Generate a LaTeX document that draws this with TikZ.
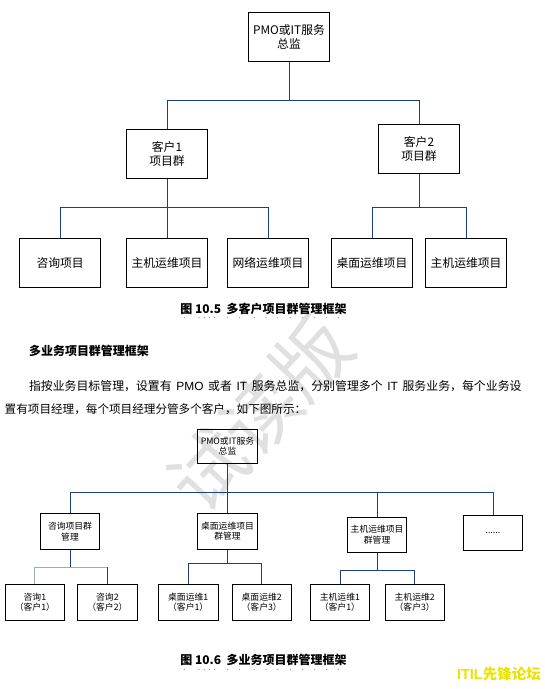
\documentclass[tikz,border=0pt]{standalone}
\usepackage{fontspec}
\usepackage{xcolor}
\setmainfont{Noto Sans CJK SC}
\newfontfamily\latinfont{Liberation Sans}
\usetikzlibrary{positioning}
\definecolor{linkblue}{RGB}{31, 62, 125}
\definecolor{linkgray}{RGB}{160, 170, 192}
\definecolor{markgray}{RGB}{224, 224, 224}
\definecolor{forumyellow}{RGB}{232, 228, 0}

\begin{document}
\begin{tikzpicture}[
    x=1pt, y=-1pt,
    every node/.style={inner sep=0pt},
    bigbox/.style={rectangle, draw, line width=0.9pt, minimum width=81pt, minimum height=49pt, align=center, font=\fontsize{11.8}{14.3}\selectfont},
    smallbox/.style={rectangle, draw, line width=0.9pt, minimum width=59.5pt, minimum height=36pt, align=center, font=\fontsize{8.8}{10.7}\selectfont},
    link/.style={linkblue, line width=0.75pt},
    softlink/.style={linkgray, line width=0.9pt},
    caption/.style={font=\bfseries\fontsize{12}{14}\selectfont},
    bodytext/.style={anchor=west, font=\fontsize{11.6}{14}\selectfont}
]
\useasboundingbox (0,0) rectangle (545,689);
\node[rotate=47, text=markgray, font=\fontsize{76}{76}\selectfont] (mark) at (260,414) {试读版};

% figure 10.5
\node[bigbox] (pmo) at (289,37.2) {PMO或IT服务\\总监};
\node[bigbox] (cust1) at (167,153.8) {客户1\\项目群};
\node[bigbox] (cust2) at (419,148.8) {客户2\\项目群};
\node[bigbox] (consult) at (60.1,263.3) {咨询项目};
\node[bigbox] (host1) at (167,263.3) {主机运维项目};
\node[bigbox] (network) at (268,263.3) {网络运维项目};
\node[bigbox] (desktop) at (371.9,263.3) {桌面运维项目};
\node[bigbox] (host2) at (466.1,263.3) {主机运维项目};
\foreach \grp in {cust1,cust2}
    \draw[link] (pmo.south) -- ++(0,38.3) -| (\grp.north);
\foreach \leaf in {consult,network}
    \draw[link] (cust1.south) -- ++(0,29) -| (\leaf.north);
\draw[link] (cust1.south) -- (host1.north);
\foreach \leaf in {desktop,host2}
    \draw[link] (cust2.south) -- ++(0,34) -| (\leaf.north);
\node[caption] (cap1) at (263.5,309) {图 10.5\ \ 多客户项目群管理框架};
\foreach \dx in {184.3,199,204.3,209.3,214.3,227.7,239.3,254.3,266,277.7,290.3,302.7,314.3,326.7,338.3}
    \fill[gray] (\dx,317.7) circle (0.55pt);

% text
\node[caption, anchor=west] (heading) at (28.8,350.7) {多业务项目群管理框架};
\node[bodytext, font=\fontsize{11.9}{14}\selectfont] (line1) at (28.8,386) {\makebox[492.6pt][s]{指按业务目标管理，设置有 {\latinfont PMO} 或者 {\latinfont IT} 服务总监，分别管理多个 {\latinfont IT} 服务业务，每个业务设}};
\node[bodytext] (line2) at (4.5,409) {置有项目经理，每个项目经理分管多个客户，如下图所示：};

% figure 10.6
\node[smallbox, minimum width=60.4pt, minimum height=34.3pt] (pmo2) at (227.5,446.2) {PMO或IT服务\\总监};
\node[smallbox] (consultgrp) at (70,531.3) {咨询项目群\\管理};
\node[smallbox, minimum width=60.2pt] (deskgrp) at (227.5,531.3) {桌面运维项目\\群管理};
\node[smallbox, minimum width=59pt, minimum height=35pt] (hostgrp) at (377.1,534.8) {主机运维项目\\群管理};
\node[smallbox, minimum width=59pt, minimum height=35pt] (more) at (492.9,532.8) {......};
\node[smallbox] (consultA) at (34.9,602.3) {咨询1\\（客户1）};
\node[smallbox, minimum width=60.4pt] (consultB) at (107.4,602.3) {咨询2\\（客户2）};
\node[smallbox] (deskA) at (188.2,602.3) {桌面运维1\\（客户1）};
\node[smallbox] (deskB) at (261.7,602.3) {桌面运维2\\（客户3）};
\node[smallbox] (hostA) at (339.9,602.3) {主机运维1\\（客户1）};
\node[smallbox] (hostB) at (414.7,602.3) {主机运维2\\（客户3）};
\foreach \grp in {consultgrp,hostgrp,more}
    \draw[link] (pmo2.south) -- ++(0,28.7) -| (\grp.north);
\draw[link] (pmo2.south) -- (deskgrp.north);
\path (consultgrp.south) ++(0,17.4) coordinate (consultbus);
\draw[link] (consultgrp.south) -- (consultbus);
\draw[softlink] (consultA.north) |- (consultbus) -| (consultB.north);
\draw[link] (consultB.north) -- (consultB.north |- consultbus);
\foreach \leaf in {deskA,deskB}
    \draw[link] (deskgrp.south) -- ++(0,14) -| (\leaf.north);
\foreach \leaf in {hostA,hostB}
    \draw[link] (hostgrp.south) -- ++(0,18) -| (\leaf.north);
\node[caption] (cap2) at (263.5,660) {图 10.6\ \ 多业务项目群管理框架};
\foreach \dx in {184.3,199,204.3,209.3,214.3,227.7,239.3,254.3,266,277.7,290.3,302.7,314.3,326.7,338.3}
    \fill[gray] (\dx,669.5) circle (0.55pt);
\node[anchor=east, text=forumyellow, font=\bfseries\fontsize{14.5}{16}\selectfont] (forum) at (541,674) {{\latinfont ITIL}先锋论坛};
\end{tikzpicture}
\end{document}
